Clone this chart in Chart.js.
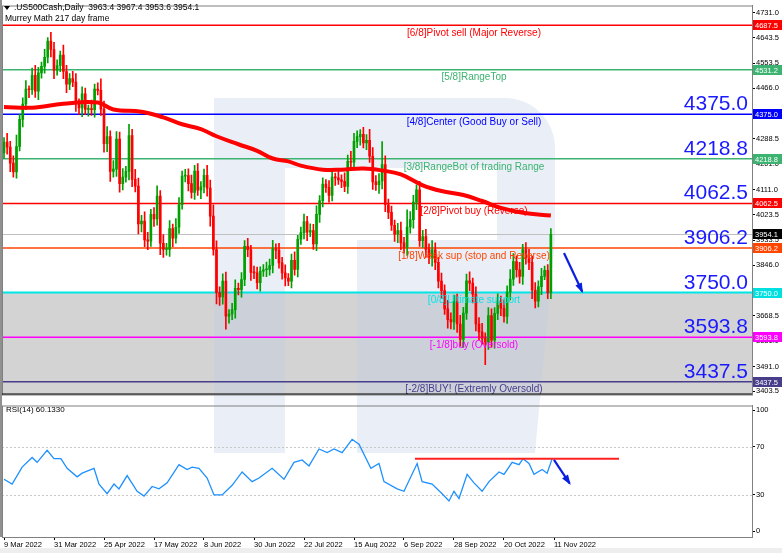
<!DOCTYPE html>
<html><head><meta charset="utf-8">
<script src="https://cdn.jsdelivr.net/npm/chart.js@4.4.1/dist/chart.umd.min.js"></script>
<style>
html,body{margin:0;padding:0;background:#fff;width:782px;height:553px;overflow:hidden}
#c1{position:absolute;left:0;top:0}
#c2{position:absolute;left:0;top:400px}
</style></head><body>
<canvas id="c1" width="782" height="400"></canvas>
<canvas id="c2" width="782" height="153"></canvas>
<script>
// ---- data ----
const closes = [4278,4260,4204,4173,4262,4357,4411,4463,4461,4512,4456,4520,4543,4575,4632,4602,4530,
4546,4583,4525,4481,4500,4488,4413,4397,4447,4392,4395,4391,4463,4459,4393,4272,4297,4175,4183,4288,4132,
4155,4175,4300,4147,4123,3991,4001,3935,3930,4024,4008,4088,3923,3901,3901,3974,3941,3979,4058,4158,4160,4132,
4101,4176,4109,4121,4161,4116,4018,3901,3750,3735,3790,3667,3675,3690,3765,3760,3796,3912,3900,3821,3819,3785,
3825,3830,3831,3845,3903,3899,3854,3819,3801,3790,3863,3831,3937,3960,3999,3962,3967,3921,4024,4072,4130,
4119,4091,4155,4152,4145,4140,4122,4210,4207,4280,4297,4305,4275,4284,4228,4138,4128,4141,4199,4058,4031,3986,3955,
3967,3924,3908,3980,4006,4067,4110,3932,3946,3901,3873,3900,3856,3790,3757,3693,3655,3647,3719,3640,3586,
3678,3791,3783,3744,3640,3612,3589,3577,3669,3583,3677,3720,3695,3666,3752,3797,3859,3830,3807,3901,3872,
3856,3759,3720,3771,3807,3828,3749,3954];
const firstOpen = 4240;
const hiW = [15,30,20,25,40,18,22,30,12,25,35,20,15,28,12,30,25,
20,14,35,22,18,26,30,16,24,20,12,30,18,22,40,28,35,20,30,26,
25,30,18,40,22,35,28,20,32,26,18,24,36,20,30,22,28,16,30,25,18,22,
24,30,20,26,18,22,35,28,40,30,20,26,32,15,22,30,18,24,20,28,16,22,
20,15,18,26,22,30,18,24,20,28,16,22,30,14,20,26,18,24,22,30,
18,22,16,24,20,14,26,18,30,22,35,28,20,16,24,20,38,30,22,26,80,30,20,
22,18,26,30,20,60,28,24,18,30,22,26,20,32,24,18,28,20,30,24,22,
26,30,20,24,32,18,26,22,30,20,28,24,20,26,18,30,22,34,28,20,26,
18,24,30,22,26,20,28,15];
const loW = [20,25,30,18,22,15,26,20,28,16,22,30,18,24,20,26,30,
18,22,25,30,20,16,28,22,30,18,24,20,26,16,22,30,28,35,20,26,30,
22,18,30,26,20,35,28,24,30,18,26,22,40,28,20,24,30,18,22,16,20,
26,20,24,18,30,22,28,35,20,40,30,26,45,24,20,30,18,26,22,24,28,20,
22,30,18,24,20,26,30,18,22,28,16,24,20,26,18,22,30,16,20,24,
28,22,18,24,20,26,16,22,18,24,20,26,22,30,18,24,22,26,20,30,28,24,22,
18,26,30,24,20,28,22,30,26,20,24,28,22,30,26,24,28,20,30,24,26,
30,24,28,22,26,30,24,28,20,80,26,24,28,22,26,20,24,28,22,26,24,
28,22,26,30,24,20,28,12];
const maIdx = [0,9,19,30,35,44,51,57,63,68,75,81,86,91,95,102,108,115,121,127,134,140,147,153,159,166,175];
const maVal = [4401,4398,4412,4416,4392,4384,4364,4340,4323,4298,4270,4247,4220,4210,4195,4181,4181,4185,4178,4164,4126,4106,4092,4071,4047,4030,4020];
const rsiIdx = [0,2.6,5.8,9,10.6,13.8,16,18.2,20.2,23.4,25,28.8,30.4,33,35.2,36.8,39.4,42.6,44.8,47.4,49.6,52.2,56,58.6,60.2,62.4,65,67.2,69.8,73,76.2,79.4,81.6,85.8,89.6,92.8,95.4,97.6,100.8,103.4,105.6,108.2,111.4,113.6,117.4,120,121.6,125.8,128,132.2,133.8,137,140.2,142.4,144,145.6,148.2,150.4,153,155.2,158.4,160,162.6,164.8,166.1,168,169.6,172.2,173.8,175.4];
const rsiVal = [43,39,53,61,57,67,60,60,52,45,48,52,39,31,39,35,46,33,29,37,35,40,55,51,53,52,44,30,30,38,49,41,44,52,43,57,59,54,68,65,68,65,76,72,52,56,41,35,33,56,41,39,31,25,33,27,47,40,33,41,49,47,57,55,60,56,47,51,48,60];
const xTickIdx = [0,16,32,48,64,80,96,112,128,144,160,176];
const xTickText = ['9 Mar 2022','31 Mar 2022','25 Apr 2022','17 May 2022','8 Jun 2022','30 Jun 2022','22 Jul 2022','15 Aug 2022','6 Sep 2022','28 Sep 2022','20 Oct 2022','11 Nov 2022'];
const yTicks = [4731.0,4643.5,4553.5,4466.0,4378.5,4288.5,4201.0,4111.0,4023.5,3933.5,3846.0,3756.0,3668.5,3581.0,3491.0,3403.5];
const levels = [4687.5,4531.2,4375.0,4218.8,4062.5,3906.2,3750.0,3593.8,3437.5];
const levelText = ['[6/8]Pivot sell (Major Reverse)','[5/8]RangeTop','[4/8]Center (Good Buy or Sell)','[3/8]RangeBot of trading Range','[2/8]Pivot buy (Reverse)','[1/8]Weak sup (stop and Reverse)','[0/8]Ultimate support','[-1/8]buy (Oversold)','[-2/8]BUY! (Extremly Oversold)'];
const levelColor = ['#ff0000','#3cb371','#0000ff','#3cb371','#ff0000','#ff4500','#00e5e5','#ff00ff','#483d8b'];
const levelBig = [false,false,true,true,true,true,true,true,true];
const lastPrice = 3954.1;
const rsiLine = {from:131.5,to:196.8,value:60};
const arrowMain = [[179.2,3889],[185,3754]];
const arrowRsi = [[176,59],[181,39.5]];
// ---- build ----
const opens = closes.map((c,i)=> i===0 ? firstOpen : closes[i-1]);
const bodies = closes.map((c,i)=>({x:i,y:[opens[i],c]}));
const wicks = closes.map((c,i)=>({x:i,y:[Math.min(opens[i],c)-(loW[i]??20),Math.max(opens[i],c)+(hiW[i]??20)]}));
const colUp='#00a000', colDn='#ff0000';
const colOf = ctx => { const i=ctx.dataIndex; return closes[i]>=opens[i]?colUp:colDn; };
const XMIN=-0.64, XMAX=239.36;

function drawWatermark(ctx, offY){
  ctx.save();
  ctx.translate(0,-offY);
  ctx.beginPath();
  ctx.moveTo(214,98); ctx.lineTo(505,98); ctx.arcTo(555,98,555,148,50);
  ctx.lineTo(555,240); ctx.lineTo(535,453); ctx.lineTo(214,453); ctx.closePath();
  ctx.moveTo(285,168); ctx.lineTo(497,168); ctx.lineTo(497,240); ctx.lineTo(357,240);
  ctx.lineTo(357,453); ctx.lineTo(285,453); ctx.closePath();
  ctx.fillStyle='rgba(190,205,230,0.33)';
  ctx.fill('evenodd');
  ctx.restore();
}
function arrow(ctx,x1,y1,x2,y2){
  ctx.save(); ctx.strokeStyle='#0a1fe0'; ctx.fillStyle='#0a1fe0'; ctx.lineWidth=2.2;
  ctx.beginPath(); ctx.moveTo(x1,y1); ctx.lineTo(x2,y2); ctx.stroke();
  const a=Math.atan2(y2-y1,x2-x1), L=9;
  ctx.beginPath(); ctx.moveTo(x2+2*Math.cos(a),y2+2*Math.sin(a));
  ctx.lineTo(x2-L*Math.cos(a-0.4),y2-L*Math.sin(a-0.4));
  ctx.lineTo(x2-L*Math.cos(a+0.4),y2-L*Math.sin(a+0.4)); ctx.closePath(); ctx.fill();
  ctx.restore();
}

const mainPlugin = {
  id:'mainDeco',
  beforeDatasetsDraw(chart){
    const {ctx,chartArea:a,scales:{x,y}}=chart;
    ctx.save();
    const yg=y.getPixelForValue(levels[6]);
    ctx.fillStyle='#d3d3d3'; ctx.fillRect(a.left,yg,a.right-a.left,a.bottom-yg);
    drawWatermark(ctx,0);
    ctx.strokeStyle='#c0c0c0'; ctx.lineWidth=1;
    const yl=Math.round(y.getPixelForValue(lastPrice))+0.5;
    ctx.beginPath(); ctx.moveTo(a.left,yl); ctx.lineTo(a.right,yl); ctx.stroke();
    levels.forEach((v,k)=>{
      const py=y.getPixelForValue(v);
      ctx.strokeStyle=levelColor[k]; ctx.lineWidth=k===6?2:1.5;
      ctx.beginPath(); ctx.moveTo(a.left,py); ctx.lineTo(a.right,py); ctx.stroke();
    });
    ctx.restore();
  },
  afterDatasetsDraw(chart){
    const {ctx,chartArea:a,scales:{x,y}}=chart;
    ctx.save();
    levels.forEach((v,k)=>{
      const py=y.getPixelForValue(v);
      ctx.fillStyle=levelColor[k]; ctx.font='10px "Liberation Sans"';
      ctx.textAlign='center'; ctx.textBaseline='top';
      ctx.fillText(levelText[k],474,py+3);
      if(levelBig[k]){
        ctx.fillStyle='#1a1aff'; ctx.font='21px "Liberation Sans"';
        ctx.textAlign='right'; ctx.textBaseline='alphabetic';
        ctx.fillText(v.toFixed(1),748,py-4);
      }
    });
    arrow(ctx,x.getPixelForValue(arrowMain[0][0]),y.getPixelForValue(arrowMain[0][1]),x.getPixelForValue(arrowMain[1][0]),y.getPixelForValue(arrowMain[1][1]));
    ctx.strokeStyle='#808080'; ctx.lineWidth=1;
    ctx.strokeRect(a.left+0.5,a.top+0.5,a.right-a.left,a.bottom-a.top);
    ctx.fillStyle='#909090'; ctx.fillRect(0,0,2,400);
    ctx.fillStyle='#000'; ctx.fillRect(a.left,a.bottom-1,a.right-a.left,1);
    ctx.fillStyle='#000'; ctx.font='8.5px "Liberation Sans"'; ctx.textAlign='left'; ctx.textBaseline='middle';
    ctx.beginPath(); ctx.moveTo(4,6); ctx.lineTo(10,6); ctx.lineTo(7,10); ctx.closePath(); ctx.fill();
    ctx.fillText('.US500Cash,Daily  3963.4 3967.4 3953.6 3954.1',14,8);
    ctx.fillText('Murrey Math 217 day frame',5,19);
    const tag=(v,col)=>{
      const py=Math.round(y.getPixelForValue(v));
      ctx.fillStyle=col; ctx.fillRect(a.right+1,py-5,29,10);
      ctx.fillStyle='#fff'; ctx.font='7.5px "Liberation Sans"'; ctx.textAlign='left'; ctx.textBaseline='middle';
      ctx.fillText(v.toFixed(1),a.right+3,py+0.5);
    };
    levels.forEach((v,k)=>tag(v,levelColor[k]==='#00e5e5'?'#00e0e0':levelColor[k]));
    tag(lastPrice,'#000');
    ctx.restore();
  }
};

new Chart(document.getElementById('c1'),{
  type:'bar',
  data:{datasets:[
    {type:'line',data:maIdx.map((v,i)=>({x:v,y:maVal[i]})),borderColor:'#ff0000',borderWidth:4,pointRadius:0,tension:0.4,order:0},
    {data:wicks,backgroundColor:colOf,barThickness:1,grouped:false,order:2},
    {data:bodies,backgroundColor:colOf,barThickness:2,grouped:false,minBarLength:1,order:1}
  ]},
  options:{
    responsive:false,animation:false,
    layout:{padding:{left:2,top:4,right:0,bottom:0}},
    plugins:{legend:{display:false},tooltip:{enabled:false}},
    scales:{
      x:{type:'linear',min:XMIN,max:XMAX,offset:false,display:false},
      y:{position:'right',min:3392.7,max:4756.4,
        afterFit(s){s.width=30;},
        afterBuildTicks(s){s.ticks=yTicks.map(v=>({value:v}));},
        grid:{drawOnChartArea:false,tickLength:3,color:'#000'},
        border:{color:'#808080'},
        ticks:{font:{size:7.5,family:'Liberation Sans'},color:'#000',padding:1,callback:v=>v.toFixed(1)}}
    }
  },
  plugins:[mainPlugin]
});

const rsiPlugin={
  id:'rsiDeco',
  beforeDatasetsDraw(chart){
    const {ctx,chartArea:a,scales:{x,y}}=chart;
    ctx.save();
    drawWatermark(ctx,400);
    ctx.strokeStyle='#c8c8c8'; ctx.setLineDash([2,2]); ctx.lineWidth=1;
    [30,70].forEach(v=>{const py=Math.round(y.getPixelForValue(v))+0.5; ctx.beginPath(); ctx.moveTo(a.left,py); ctx.lineTo(a.right,py); ctx.stroke();});
    ctx.restore();
  },
  afterDatasetsDraw(chart){
    const {ctx,chartArea:a,scales:{x,y}}=chart;
    ctx.save();
    ctx.strokeStyle='#ff2020'; ctx.lineWidth=2;
    const ry=y.getPixelForValue(rsiLine.value);
    ctx.beginPath(); ctx.moveTo(x.getPixelForValue(rsiLine.from),ry); ctx.lineTo(x.getPixelForValue(rsiLine.to),ry); ctx.stroke();
    arrow(ctx,x.getPixelForValue(arrowRsi[0][0]),y.getPixelForValue(arrowRsi[0][1]),x.getPixelForValue(arrowRsi[1][0]),y.getPixelForValue(arrowRsi[1][1]));
    ctx.strokeStyle='#808080'; ctx.lineWidth=1;
    ctx.strokeRect(a.left+0.5,a.top+0.5,a.right-a.left,a.bottom-a.top);
    ctx.fillStyle='#909090'; ctx.fillRect(0,0,2,a.bottom);
    ctx.fillStyle='#000'; ctx.font='8px "Liberation Sans"'; ctx.textAlign='left'; ctx.textBaseline='middle';
    ctx.fillText('RSI(14) 60.1330',6,10);
    ctx.fillStyle='#eeeeee'; ctx.fillRect(0,148,782,5);
    ctx.restore();
  }
};

new Chart(document.getElementById('c2'),{
  type:'line',
  data:{datasets:[
    {data:rsiIdx.map((v,i)=>({x:v,y:rsiVal[i]})),borderColor:'#1e90ff',borderWidth:1.3,pointRadius:0,tension:0}
  ]},
  options:{
    responsive:false,animation:false,
    layout:{padding:{left:2,top:2,right:0,bottom:0}},
    plugins:{legend:{display:false},tooltip:{enabled:false}},
    scales:{
      x:{type:'linear',min:XMIN,max:XMAX,offset:false,
        afterBuildTicks(s){s.ticks=xTickIdx.map(v=>({value:v}));},
        afterFit(s){s.height=16;},
        grid:{drawOnChartArea:false,tickLength:3,color:'#000'},
        border:{color:'#808080'},
        ticks:{autoSkip:false,maxRotation:0,align:'start',padding:0,font:{size:7.5,family:'Liberation Sans'},color:'#000',
          callback:(v)=>{const k=xTickIdx.indexOf(v);return k>=0?xTickText[k]:'';}}},
      y:{position:'right',min:-4.8,max:104,
        afterFit(s){s.width=30;},
        afterBuildTicks(s){s.ticks=[0,30,70,100].map(v=>({value:v}));},
        grid:{drawOnChartArea:false,tickLength:3,color:'#000'},
        border:{color:'#808080'},
        ticks:{font:{size:7.5,family:'Liberation Sans'},color:'#000',padding:1}}
    }
  },
  plugins:[rsiPlugin]
});
</script>
</body></html>
